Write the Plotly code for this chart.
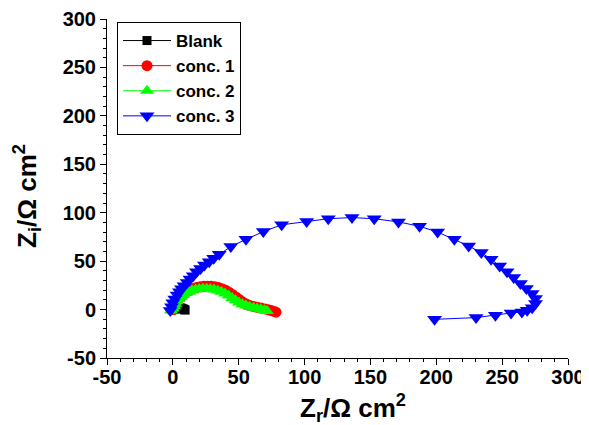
import plotly.graph_objects as go

# ---- data ----
blank_x = [1.0, 1.5, 2.2, 3.0, 4.0, 5.0, 6.0, 7.0, 8.0, 8.8, 9.3]
blank_y = [0.0, 0.8, 1.4, 1.8, 2.0, 2.0, 1.7, 1.2, 0.6, 0.0, -0.5]

c1_x = [0.5, 1.0, 1.8, 2.8, 4.0, 5.5, 7.0, 8.8, 10.8, 13.0, 15.5, 18.0, 20.8, 23.5,
        26.3, 29.0, 31.8, 34.5, 37.2, 40.0, 42.6, 45.2, 47.8, 50.3, 52.8, 55.3, 58.0,
        61.0, 64.0, 67.0, 70.0, 72.5, 74.8, 76.8, 78.3]
c1_y = [0.0, 2.2, 4.8, 7.4, 10.0, 12.6, 14.8, 16.9, 18.8, 20.4, 21.8, 22.8, 23.5, 24.0,
        24.2, 24.0, 23.5, 22.7, 21.5, 20.0, 18.0, 15.6, 13.0, 10.4, 8.0, 6.0, 4.4,
        3.2, 2.3, 1.5, 0.7, -0.1, -1.0, -1.9, -2.7]

c2_x = [-1.5, 0.0, 1.0, 2.0, 3.2, 4.6, 6.2, 8.0, 10.0, 12.2, 14.6, 17.2, 20.0, 22.8,
        25.6, 28.4, 31.2, 34.0, 36.8, 39.6, 42.3, 45.0, 47.6, 50.2, 52.8, 55.5, 58.3,
        61.2, 64.0, 66.8, 69.5, 71.5]
c2_y = [-1.0, 1.0, 3.5, 6.0, 8.5, 11.0, 13.3, 15.3, 17.0, 18.5, 19.7, 20.6, 21.2, 21.5,
        21.5, 21.2, 20.6, 19.6, 18.3, 16.6, 14.5, 12.0, 9.6, 7.4, 5.6, 4.1, 2.9,
        1.9, 1.1, 0.3, -0.7, -1.5]

c3_x = [-2.0, -1.0, 0.0, 1.5, 3.3, 5.0, 6.6, 8.5, 10.9, 13.0, 15.5, 18.0, 21.0, 24.0,
        27.6, 31.0, 35.2, 44.0, 55.5, 68.7, 82.6, 101.6, 118.0, 136.0, 152.9, 171.3,
        187.3, 201.0, 213.7, 224.6, 234.2, 241.6, 248.1, 253.7, 258.8, 263.9, 268.4,
        272.8, 275.3, 275.3, 272.8, 269.0, 265.0, 256.8, 244.9, 230.2, 198.7]
c3_y = [-1.0, 3.0, 7.0, 11.0, 15.0, 18.5, 21.5, 24.5, 28.0, 31.5, 35.0, 39.0, 42.5, 46.0,
        49.5, 53.0, 57.0, 65.0, 72.5, 80.5, 87.5, 91.0, 93.8, 95.0, 93.8, 90.5,
        86.0, 80.0, 72.7, 65.7, 58.8, 52.0, 45.0, 39.0, 33.2, 27.0, 21.8,
        16.6, 11.4, 6.2, 2.0, -0.6, -2.5, -3.5, -5.9, -8.3, -10.1]

ticks = [-50, 0, 50, 100, 150, 200, 250, 300]
tick_labels = ["<b>%d</b>" % t for t in ticks]

FONT = "Liberation Sans, Arial, sans-serif"

fig = go.Figure()
fig.add_trace(go.Scatter(x=blank_x, y=blank_y, mode="lines+markers", name="Blank",
                         line=dict(color="black", width=1),
                         marker=dict(symbol="square", size=9, color="black")))
fig.add_trace(go.Scatter(x=c1_x, y=c1_y, mode="lines+markers", name="conc. 1",
                         line=dict(color="red", width=1),
                         marker=dict(symbol="circle", size=11, color="red")))
fig.add_trace(go.Scatter(x=c2_x, y=c2_y, mode="lines+markers", name="conc. 2",
                         line=dict(color="#00ff00", width=1),
                         marker=dict(symbol="triangle-up", size=12, color="#00ff00")))
fig.add_trace(go.Scatter(x=c3_x, y=c3_y, mode="lines+markers", name="conc. 3",
                         line=dict(color="blue", width=1),
                         marker=dict(symbol="triangle-down", size=13, color="blue")))

axis_common = dict(
    showgrid=False, zeroline=False, showline=True, linecolor="black", linewidth=1,
    ticks="outside", ticklen=6, tickwidth=1, tickcolor="black",
    tickmode="array", tickvals=ticks, ticktext=tick_labels,
    tickfont=dict(family=FONT, size=20, color="black", weight="bold"),
    minor=dict(ticks="outside", ticklen=3, tickcolor="black", dtick=10, tick0=0),
    mirror=False, automargin=False,
)
fig.update_xaxes(range=[-50, 300], ticklabelstandoff=-5, **axis_common)
fig.update_yaxes(range=[-50, 300], **axis_common)

# page has an 8px body margin: figure spans 8..589 x 8..425
L, R, T, B = 99, 21, 11, 67
W, H = 581, 417
PW, PH = W - L - R, H - T - B  # plot area in px


def px_x(x):  # page x -> paper
    return (x - 8 - L) / PW


def px_y(y):  # page y -> paper
    return (H - B - (y - 8)) / PH


fig.update_layout(
    width=W, height=H,
    margin=dict(l=L, r=R, t=T, b=B, autoexpand=False),
    paper_bgcolor="white", plot_bgcolor="white",
    showlegend=True,
    legend=dict(x=px_x(117), y=px_y(22), xanchor="left", yanchor="top",
                bordercolor="black", borderwidth=1, bgcolor="white",
                font=dict(family=FONT, size=17, color="black", weight="bold"),
                itemwidth=48, tracegroupgap=0),
    annotations=[
        dict(text="<b>Z<sub>r</sub>/Ω cm<sup>2</sup></b>", xref="paper", yref="paper",
             x=px_x(353), y=px_y(408), xanchor="center", yanchor="middle",
             showarrow=False, font=dict(family=FONT, size=26, color="black")),
        dict(text="<b>Z<sub>i</sub>/Ω cm<sup>2</sup></b>", xref="paper", yref="paper",
             x=px_x(27), y=px_y(196), xanchor="center", yanchor="middle",
             textangle=-90, showarrow=False, font=dict(family=FONT, size=26, color="black")),
    ],
)

fig.write_html("out.html")
